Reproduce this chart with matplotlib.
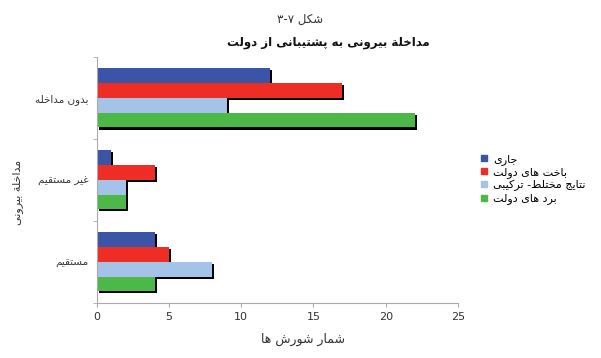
import matplotlib
matplotlib.use('Agg')
import matplotlib.pyplot as plt
import matplotlib.patheffects as pe
from matplotlib.lines import Line2D
import numpy as np

# data (categories bottom -> top)
categories = ['مستقیم', 'غیر مستقیم', 'بدون مداخله']
series_names = ['جاری', 'باخت های دولت', 'نتایج مختلط- ترکیبی', 'برد های دولت']
jari = [4, 1, 12]
bakht = [5, 4, 17]
natayej = [8, 2, 9]
bord = [4, 2, 22]
colors = ['#3a55a5', '#ee2e24', '#a5c3e8', '#4cb847']

# presentation forms: isolated, final, initial, medial
FORMS = {
    'ا': ('\uFE8D', '\uFE8E', None, None),
    'ب': ('\uFE8F', '\uFE90', '\uFE91', '\uFE92'),
    'پ': ('\uFB56', '\uFB57', '\uFB58', '\uFB59'),
    'ت': ('\uFE95', '\uFE96', '\uFE97', '\uFE98'),
    'ج': ('\uFE9D', '\uFE9E', '\uFE9F', '\uFEA0'),
    'خ': ('\uFEA5', '\uFEA6', '\uFEA7', '\uFEA8'),
    'د': ('\uFEA9', '\uFEAA', None, None),
    'ر': ('\uFEAD', '\uFEAE', None, None),
    'ز': ('\uFEAF', '\uFEB0', None, None),
    'س': ('\uFEB1', '\uFEB2', '\uFEB3', '\uFEB4'),
    'ش': ('\uFEB5', '\uFEB6', '\uFEB7', '\uFEB8'),
    'ط': ('\uFEC1', '\uFEC2', '\uFEC3', '\uFEC4'),
    'غ': ('\uFECD', '\uFECE', '\uFECF', '\uFED0'),
    'ق': ('\uFED5', '\uFED6', '\uFED7', '\uFED8'),
    'ک': ('\uFB8E', '\uFB8F', '\uFB90', '\uFB91'),
    'ل': ('\uFEDD', '\uFEDE', '\uFEDF', '\uFEE0'),
    'م': ('\uFEE1', '\uFEE2', '\uFEE3', '\uFEE4'),
    'ن': ('\uFEE5', '\uFEE6', '\uFEE7', '\uFEE8'),
    'ه': ('\uFEE9', '\uFEEA', '\uFEEB', '\uFEEC'),
    'و': ('\uFEED', '\uFEEE', None, None),
    'ی': ('\uFBFC', '\uFBFD', '\uFBFE', '\uFBFF'),
    'ة': ('\uFE93', '\uFE94', None, None),
}
LTR = set('0123456789۰۱۲۳۴۵۶۷۸۹-')


def fa(s):
    # crude shaping + visual reordering for persian text
    out = []
    for i, c in enumerate(s):
        if c not in FORMS:
            out.append(c)
            continue
        p = s[i - 1] if i > 0 else ''
        n = s[i + 1] if i + 1 < len(s) else ''
        pj = p in FORMS and FORMS[p][2] is not None
        nj = FORMS[c][2] is not None and n in FORMS
        f = FORMS[c]
        if pj and nj:
            out.append(f[3])
        elif pj:
            out.append(f[1])
        elif nj:
            out.append(f[2])
        else:
            out.append(f[0])
    out = out[::-1]
    # put number runs back in order
    res, run = [], []
    for c in out:
        if c in LTR:
            run.append(c)
        else:
            res.extend(run[::-1])
            run = []
            res.append(c)
    res.extend(run[::-1])
    return ''.join(res)


plt.rcParams['font.family'] = ['DejaVu Sans']

fig = plt.figure(figsize=(6.01, 3.58), dpi=100)
ax = fig.add_axes([0.161, 0.154, 0.601, 0.687])

y = np.arange(len(categories))
h = 0.18
offsets = [1.5 * h, 0.5 * h, -0.5 * h, -1.5 * h]
shadow = [pe.SimplePatchShadow(offset=(1.5, -1.5), shadow_rgbFace='black', alpha=1), pe.Normal()]
for vals, off, col, name in zip([jari, bakht, natayej, bord], offsets, colors, series_names):
    bars = ax.barh(y + off, vals, height=h, color=col, label=fa(name))
    for b in bars:
        b.set_path_effects(shadow)

ax.set_xlim(0, 25)
ax.set_ylim(-0.5, 2.5)
ax.set_xticks([0, 5, 10, 15, 20, 25])
ax.set_yticks(y)
ax.set_yticklabels([fa(c) for c in categories], fontsize=7.5, color='#333333')
ax.set_yticks([-0.5, 0.5, 1.5, 2.5], minor=True)
ax.tick_params(axis='y', which='major', length=0, pad=6)
ax.tick_params(axis='y', which='minor', length=3, color='#aaaaaa')
ax.tick_params(axis='x', length=3, color='#aaaaaa', labelsize=8, labelcolor='#333333')
for s in ['top', 'right']:
    ax.spines[s].set_visible(False)
for s in ['left', 'bottom']:
    ax.spines[s].set_color('#aaaaaa')
    ax.spines[s].set_linewidth(0.8)

ax.set_xlabel(fa('شمار شورش ها'), fontsize=9, color='#333333', x=0.57, labelpad=8)
ax.set_ylabel(fa('مداخلة بیرونی'), fontsize=8, color='#333333')
ax.yaxis.set_label_coords(-0.205, 0.45)

fig.text(0.5, 0.945, fa('شکل ۳-۷'), ha='center', va='center', fontsize=8.5, color='#333333')
fig.text(0.546, 0.88, fa('مداخلة بیرونی به پشتیبانی از دولت'), ha='center', va='center',
         fontsize=8.5, fontweight='bold', color='#111111')

handles = [Line2D([], [], marker='s', linestyle='none', color=c, markersize=4) for c in colors]
fig.legend(handles, [fa(n) for n in series_names], loc='center left',
           bbox_to_anchor=(0.78, 0.5), frameon=False, fontsize=8,
           handletextpad=0.3, labelspacing=0.2, handlelength=1)

fig.savefig('out.png', dpi=100)
